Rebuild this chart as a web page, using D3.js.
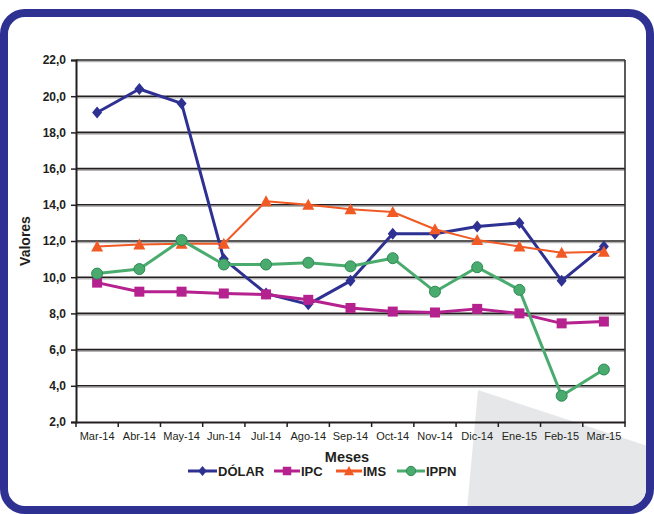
<!DOCTYPE html>
<html><head><meta charset="utf-8">
<script src="https://cdn.jsdelivr.net/npm/d3@7"></script>
<style>body{margin:0;background:#fff}svg{display:block}</style>
</head><body>
<script>
const months = ["Mar-14","Abr-14","May-14","Jun-14","Jul-14","Ago-14","Sep-14","Oct-14","Nov-14","Dic-14","Ene-15","Feb-15","Mar-15"];
const dolar = [19.1,20.4,19.6,11.0,9.1,8.5,9.8,12.4,12.4,12.8,13.0,9.8,11.7];
const ipc   = [9.7,9.2,9.2,9.1,9.05,8.75,8.3,8.1,8.05,8.25,8.0,7.45,7.55];
const ims   = [11.7,11.8,11.85,11.85,14.2,14.0,13.75,13.6,12.65,12.05,11.7,11.35,11.4];
const ippn  = [10.2,10.45,12.05,10.7,10.7,10.8,10.6,11.05,9.2,10.55,9.3,3.45,4.9];
const yTicks = [2,4,6,8,10,12,14,16,18,20,22];
const seriesNames = ["DÓLAR","IPC","IMS","IPPN"];
const seriesColors = ["#2E3192","#B5218E","#F15A24","#4AAB6E"];

const series = [
  {name:seriesNames[0], values:dolar, color:seriesColors[0], width:3, marker:"diamond"},
  {name:seriesNames[1], values:ipc, color:seriesColors[1], width:3, marker:"square"},
  {name:seriesNames[2], values:ims, color:seriesColors[2], width:2, marker:"triangle"},
  {name:seriesNames[3], values:ippn, color:seriesColors[3], width:3, marker:"circle"}
];

const W=654,H=514;
const svg=d3.select("body").append("svg").attr("width",W).attr("height",H);
const font="'Liberation Sans', Arial, Helvetica, sans-serif";

// frame
svg.append("rect").attr("x",4).attr("y",13).attr("width",646).attr("height",497)
  .attr("rx",21).attr("fill","#fff").attr("stroke","#2E3192").attr("stroke-width",8);
// decorative gray wedge
svg.append("clipPath").attr("id","fr").append("rect")
  .attr("x",8).attr("y",17).attr("width",638).attr("height",489).attr("rx",17);
svg.append("path").attr("clip-path","url(#fr)")
  .attr("d","M478,390 L660,450 L660,520 L466,520 Z").attr("fill","#E6E7E9");

const L=76,R=625,T=60,B=422;
const x=d3.scaleBand().domain(months).range([L,R]);
const y=d3.scaleLinear().domain([2,22]).range([B,T]);

// gridlines
const g=svg.append("g");
yTicks.slice(1).forEach(v=>{
  g.append("line").attr("x1",L).attr("x2",R).attr("y1",y(v)+1.6).attr("y2",y(v)+1.6)
    .attr("stroke","#b5b5b5").attr("stroke-width",1.4);
  g.append("line").attr("x1",L).attr("x2",R).attr("y1",y(v)).attr("y2",y(v))
    .attr("stroke","#231F20").attr("stroke-width",1.6);
});
g.append("line").attr("x1",R).attr("x2",R).attr("y1",T).attr("y2",B).attr("stroke","#333").attr("stroke-width",1.6);

// axes
const yAxis=d3.axisLeft(y).tickValues(yTicks).tickSize(5).tickFormat(d=>d3.format(".1f")(d).replace(".",","));
const ya=svg.append("g").attr("transform",`translate(${L},0)`).call(yAxis);
ya.select(".domain").attr("stroke","#231F20").attr("stroke-width",2);
ya.selectAll(".tick line").attr("stroke","#231F20").attr("stroke-width",1.5);
ya.selectAll("text").attr("font-family",font).attr("font-weight","bold").attr("font-size",12).attr("fill","#231F20").attr("x",-10);

const xAxis=d3.axisBottom(x).tickSize(0);
const xa=svg.append("g").attr("transform",`translate(0,${B})`).call(xAxis);
xa.select(".domain").attr("stroke","#231F20").attr("stroke-width",2);
xa.selectAll("text").attr("font-family",font).attr("font-size",11).attr("fill","#231F20").attr("y",10);
const bounds=months.map(m=>x(m)).concat([R]);
xa.selectAll(".bt").data(bounds).enter().append("line").attr("class","bt")
  .attr("x1",d=>d).attr("x2",d=>d).attr("y1",0).attr("y2",5).attr("stroke","#231F20").attr("stroke-width",1.5);

// axis titles
svg.append("text").attr("x",347).attr("y",462).attr("text-anchor","middle")
  .attr("font-family",font).attr("font-weight","bold").attr("font-size",14.5).attr("fill","#231F20").text("Meses");
svg.append("text").attr("transform",`translate(30,${(T+B)/2}) rotate(-90)`).attr("text-anchor","middle")
  .attr("font-family",font).attr("font-weight","bold").attr("font-size",14).attr("fill","#231F20").text("Valores");

function markerPath(type,k){
  if(type==="diamond") return `M0,${-6*k} L${5*k},0 L0,${6*k} L${-5*k},0 Z`;
  if(type==="square") return `M${-5*k},${-5*k} L${5*k},${-5*k} L${5*k},${5*k} L${-5*k},${5*k} Z`;
  if(type==="triangle") return `M0,${-6*k} L${6*k},${5*k} L${-6*k},${5*k} Z`;
  return null;
}
function drawMarker(sel,s,k){
  if(s.marker==="circle"){
    sel.append("circle").attr("r",5.5*k).attr("fill",s.color).attr("stroke","#2f8a55").attr("stroke-width",1);
  } else {
    sel.append("path").attr("d",markerPath(s.marker,k)).attr("fill",s.color);
  }
}

const cx=m=>x(m)+x.bandwidth()/2;
const line=d3.line().x((d,i)=>cx(months[i])).y(d=>y(d));
series.forEach(s=>{
  svg.append("path").attr("d",line(s.values)).attr("fill","none").attr("stroke",s.color).attr("stroke-width",s.width).attr("stroke-linejoin","round");
  s.values.forEach((v,i)=>{
    const gm=svg.append("g").attr("transform",`translate(${cx(months[i])},${y(v)})`);
    drawMarker(gm,s,1);
  });
});

// legend
const legX=[188,274,336,397];
const legLen=[29,26,26,28];
series.forEach((s,i)=>{
  const lg=svg.append("g").attr("transform",`translate(${legX[i]},471)`);
  lg.append("line").attr("x1",0).attr("x2",legLen[i]).attr("y1",0).attr("y2",0).attr("stroke",s.color).attr("stroke-width",3);
  const m=lg.append("g").attr("transform",`translate(${legLen[i]/2},0)`);
  drawMarker(m,s,0.85);
  lg.append("text").attr("x",legLen[i]+1).attr("y",4.5).attr("font-family",font).attr("font-weight","bold").attr("font-size",13).attr("fill","#231F20").text(s.name);
});
</script>
</body></html>
